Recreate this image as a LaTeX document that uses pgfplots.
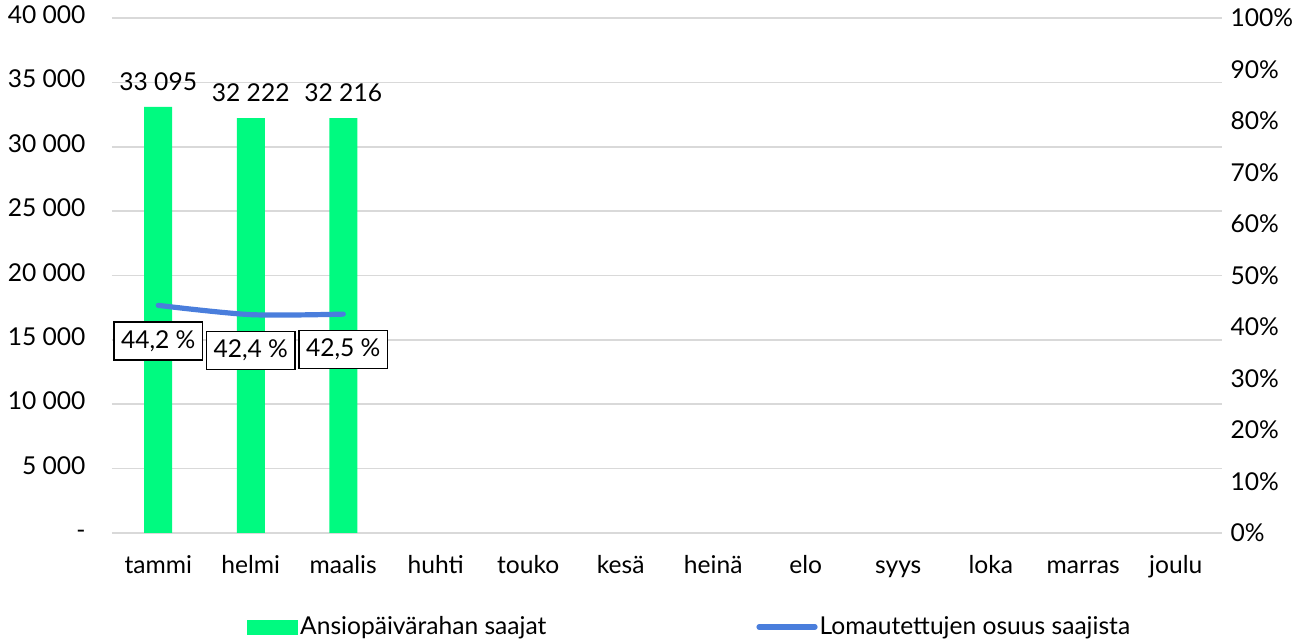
\documentclass[border=0pt]{standalone}
\usepackage{fontspec}
\setmainfont{Lato}
\usepackage{pgfplots}
\pgfplotsset{compat=1.18}
\definecolor{barg}{RGB}{0,250,128}
\definecolor{lineb}{RGB}{74,126,220}
\definecolor{gridg}{RGB}{217,217,217}

\pgfplotsset{
  base/.style={
    width=555pt, height=257.5pt, scale only axis,
    xmin=-0.5, xmax=11.5, xtick={0,...,11},
    /pgf/number format/assume math mode=true,
    scaled y ticks=false,
    tick style={draw=none},
    typeset ticklabels with strut,
    every tick label/.append style={font=\fontsize{12.3}{14}\selectfont},
  }
}

\begin{document}
\fontsize{12.3}{14}\selectfont
\begin{tikzpicture}
\begin{axis}[base, name=ax,
  axis x line*=bottom, axis y line*=left,
  x axis line style={draw=gridg, line width=0.8pt, -},
  y axis line style={draw=none},
  xticklabels={tammi,helmi,maalis,huhti,touko,kesä,heinä,elo,syys,loka,marras,joulu},
  xticklabel style={yshift=-2pt},
  ymin=0, ymax=40000, ytick={0,5000,...,40000},
  yticklabels={-,5 000,10 000,15 000,20 000,25 000,30 000,35 000,40 000},
  yticklabel style={xshift=-9pt},
  ymajorgrids, grid style={draw=gridg, line width=0.8pt},
  ybar, bar width=14pt,
  nodes near coords, point meta=explicit symbolic,
  every node near coord/.append style={font=\fontsize{12.3}{14}\selectfont, yshift=4pt, black},
]
\addplot[fill=barg, draw=none] coordinates {(0,33095)[33 095] (1,32222)[32 222] (2,32216)[32 216]};
\end{axis}
\begin{axis}[base,
  axis x line=none, axis y line*=right,
  y axis line style={draw=none},
  xticklabels={},
  ymin=0, ymax=100, ytick={0,10,...,100},
  yticklabel={\pgfmathprintnumber{\tick}\%},
  legend style={at={(0.1216,-0.1825)}, anchor=west, draw=none, fill=none,
    inner sep=0pt, legend columns=2, font=\fontsize{12.3}{14}\selectfont,
    /tikz/every even column/.append style={column sep=104pt},
    nodes={inner xsep=1pt}},
  legend cell align=left,
]
\addlegendimage{legend image code/.code={\fill[barg] (0pt,-3.5pt) rectangle (25pt,3.5pt);}}
\addlegendentry{Ansiopäivärahan saajat}
\addplot[lineb, line width=2.6pt, line cap=round, smooth, mark=none,
  nodes near coords, point meta=explicit symbolic,
  every node near coord/.append style={font=\fontsize{12.3}{14}\selectfont, black,
    draw=black, fill=white, line width=0.6pt, anchor=north, yshift=-8pt,
    inner xsep=3.5pt, minimum height=19pt},
  legend image code/.code={\draw[lineb, line width=2.6pt, line cap=round] (0pt,0pt) -- (28pt,0pt);}]
  coordinates {(0,44.2)[44,2 \%] (1,42.4)[42,4 \%] (2,42.5)[42,5 \%]};
\addlegendentry{Lomautettujen osuus saajista}
\end{axis}
\pgfresetboundingbox
\path (ax.south west) ++(-56pt,-53.5pt) rectangle ++(658pt,320pt);
\end{tikzpicture}
\end{document}
